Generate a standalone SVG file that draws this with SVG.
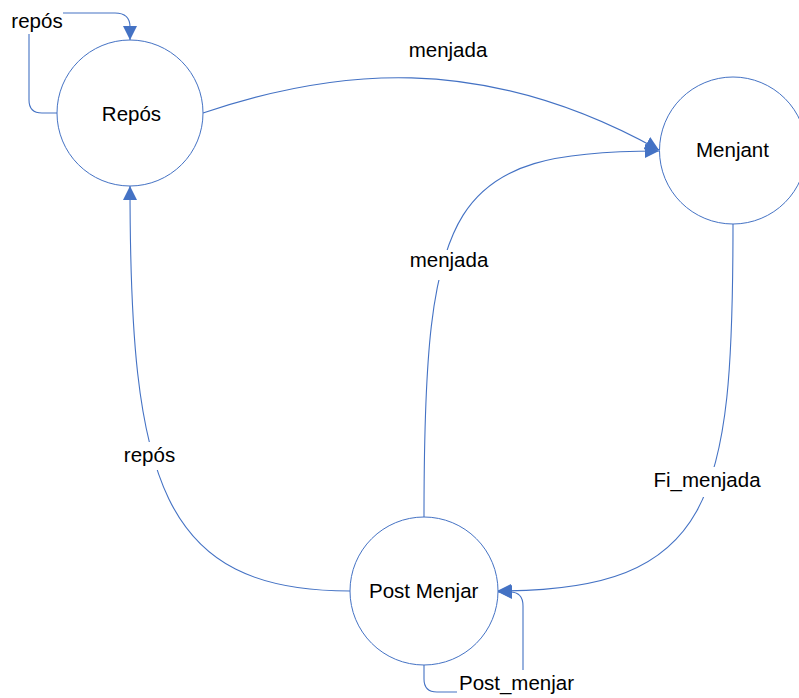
<svg xmlns="http://www.w3.org/2000/svg" width="799" height="698" viewBox="0 0 799 698">
<style>
.node circle{fill:#fff;stroke:#4472C4;stroke-width:1}
.edge{fill:none;stroke:#4472C4;stroke-width:1.1}
text{font-family:"Liberation Sans",Arial,sans-serif;font-size:20.5px;fill:#000}
.nt{text-anchor:middle}
.bg{fill:#fff}
</style>
<defs>
<marker id="arr" markerUnits="userSpaceOnUse" viewBox="0 0 14 14" markerWidth="14" markerHeight="14" refX="14" refY="7" orient="auto">
<path d="M0,0 L14,7 L0,14 z" fill="#4472C4"/>
</marker>
</defs>
<rect width="799" height="698" fill="#fff"/>
<g id="connectors">
<path class="edge" d="M57,113 L42,113 Q29,113 29,100 L29,26 Q29,13 42,13 L115,13 Q130,13 130,27 L130,40" marker-end="url(#arr)"/>
<path class="edge" d="M203,113 C330,70 480,50 659,150" marker-end="url(#arr)"/>
<path class="edge" d="M424,517 C424,200 450,151 659,151" marker-end="url(#arr)"/>
<path class="edge" d="M733,224 C733,500 715,591 497,591" marker-end="url(#arr)"/>
<path class="edge" d="M350,591 C160,591 130,480 130,186" marker-end="url(#arr)"/>
<path class="edge" d="M424,665 L424,679 Q424,692 437,692 L510,692 Q523,692 523,679 L523,606 Q523,592 510,592 L498,592" marker-end="url(#arr)"/>
</g>
<g id="edge-labels">
<rect class="bg" x="10" y="8" width="53" height="26"/>
<text x="37" y="27.5" class="nt">repós</text>
<text x="448" y="57" class="nt">menjada</text>
<rect class="bg" x="408" y="250" width="82" height="30"/>
<text x="449" y="267" class="nt">menjada</text>
<rect class="bg" x="651" y="467" width="112" height="30"/>
<text x="707" y="487" class="nt">Fi_menjada</text>
<rect class="bg" x="122" y="442" width="55" height="28"/>
<text x="149.5" y="462" class="nt">repós</text>
<rect class="bg" x="457" y="670" width="121" height="28"/>
<text x="516.5" y="690" class="nt">Post_menjar</text>
</g>
<g id="node-repos" class="node">
<circle cx="130" cy="113" r="73"/>
<text x="131.5" y="121" class="nt">Repós</text>
</g>
<g id="node-menjant" class="node">
<circle cx="733" cy="150.5" r="73.5"/>
<text x="732.5" y="157" class="nt">Menjant</text>
</g>
<g id="node-postmenjar" class="node">
<circle cx="424" cy="591" r="74"/>
<text x="423.7" y="597.5" class="nt">Post Menjar</text>
</g>
</svg>
